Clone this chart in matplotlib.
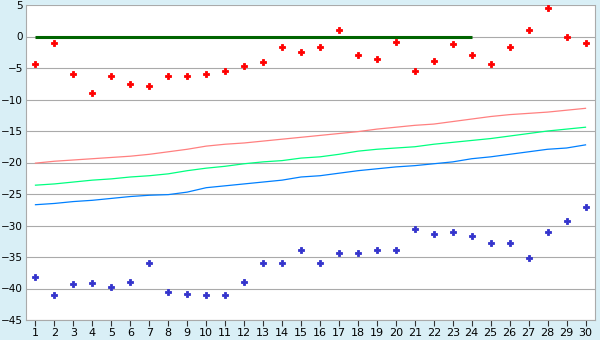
import numpy as np
import matplotlib
matplotlib.use('Agg')
import matplotlib.pyplot as plt

# categories 1..30
days = list(range(1, 31))

# scattered series
red_pts = [-4.4, -1.1, -6.0, -9.0, -6.3, -7.6, -7.9, -6.3, -6.3, -6.0,
           -5.5, -4.7, -4.1, -1.7, -2.4, -1.7, 1.1, -3.0, -3.6, -0.9,
           -5.4, -3.9, -1.2, -3.0, -4.4, -1.6, 1.1, 4.5, 0.0, -1.1]
blue_pts = [-38.2, -41.1, -39.3, -39.2, -39.8, -39.0, -36.0, -40.6, -40.9, -41.1,
            -41.1, -38.9, -36.0, -36.0, -33.9, -36.0, -34.4, -34.4, -33.9, -33.9,
            -30.6, -31.4, -31.1, -31.7, -32.8, -32.8, -35.1, -31.1, -29.3, -27.1]

# line series
red_line = [-20.1, -19.8, -19.6, -19.4, -19.2, -19.0, -18.7, -18.3, -17.9, -17.4,
            -17.1, -16.9, -16.6, -16.3, -16.0, -15.7, -15.4, -15.1, -14.7, -14.4,
            -14.1, -13.9, -13.5, -13.1, -12.7, -12.4, -12.2, -12.0, -11.7, -11.4]
green_line = [-23.6, -23.4, -23.1, -22.8, -22.6, -22.3, -22.1, -21.8, -21.3, -20.9,
              -20.6, -20.2, -19.9, -19.7, -19.3, -19.1, -18.7, -18.2, -17.9, -17.7,
              -17.5, -17.1, -16.8, -16.5, -16.2, -15.8, -15.4, -15.0, -14.7, -14.4]
blue_line = [-26.7, -26.5, -26.2, -26.0, -25.7, -25.4, -25.2, -25.1, -24.7, -24.0,
             -23.7, -23.4, -23.1, -22.8, -22.3, -22.1, -21.7, -21.3, -21.0, -20.7,
             -20.5, -20.2, -19.9, -19.4, -19.1, -18.7, -18.3, -17.9, -17.7, -17.2]

# zero reference line, days 1..24
zero_days = days[:24]
zero_vals = [0] * 24

yticks = list(range(-45, 6, 5))

fig = plt.figure(figsize=(6, 3.4), dpi=100, facecolor='#d9eff6')
ax = fig.add_axes([26/600, 20/340, 569/600, 315/340])
ax.set_facecolor('white')

for y in yticks:
    ax.axhline(y, color='#aaaaaa', lw=0.8, zorder=1)

ax.plot(days, red_line, color='#ff8080', lw=0.9, zorder=2)
ax.plot(days, green_line, color='#00ff80', lw=0.9, zorder=2)
ax.plot(days, blue_line, color='#0080ff', lw=0.9, zorder=2)
ax.plot(zero_days, zero_vals, color='#006400', lw=2.2, zorder=3, solid_capstyle='butt')

# small chunky plus markers
ax.plot(days, red_pts, ls='none', marker='P', ms=4.2, color='#ff0000', mew=0.6, zorder=4)
ax.plot(days, blue_pts, ls='none', marker='P', ms=4.2, color='#3333cc', mew=0.6, zorder=4)

ax.set_xlim(0.5, 30.5)
ax.set_ylim(-45, 5)
ax.set_xticks(days)
ax.set_xticklabels([str(d) for d in days])
ax.set_yticks(yticks)
ax.set_yticklabels([str(y).replace('-', '\u2212') for y in yticks])

for s in ax.spines.values():
    s.set_color('#aaaaaa')
    s.set_linewidth(0.8)
ax.spines['top'].set_visible(False)

ax.tick_params(axis='x', length=4, width=0.8, color='#333333', labelsize=8, pad=2)
ax.tick_params(axis='y', length=0, labelsize=7.5, pad=2)

fig.savefig('out.png', dpi=100, facecolor=fig.get_facecolor())
